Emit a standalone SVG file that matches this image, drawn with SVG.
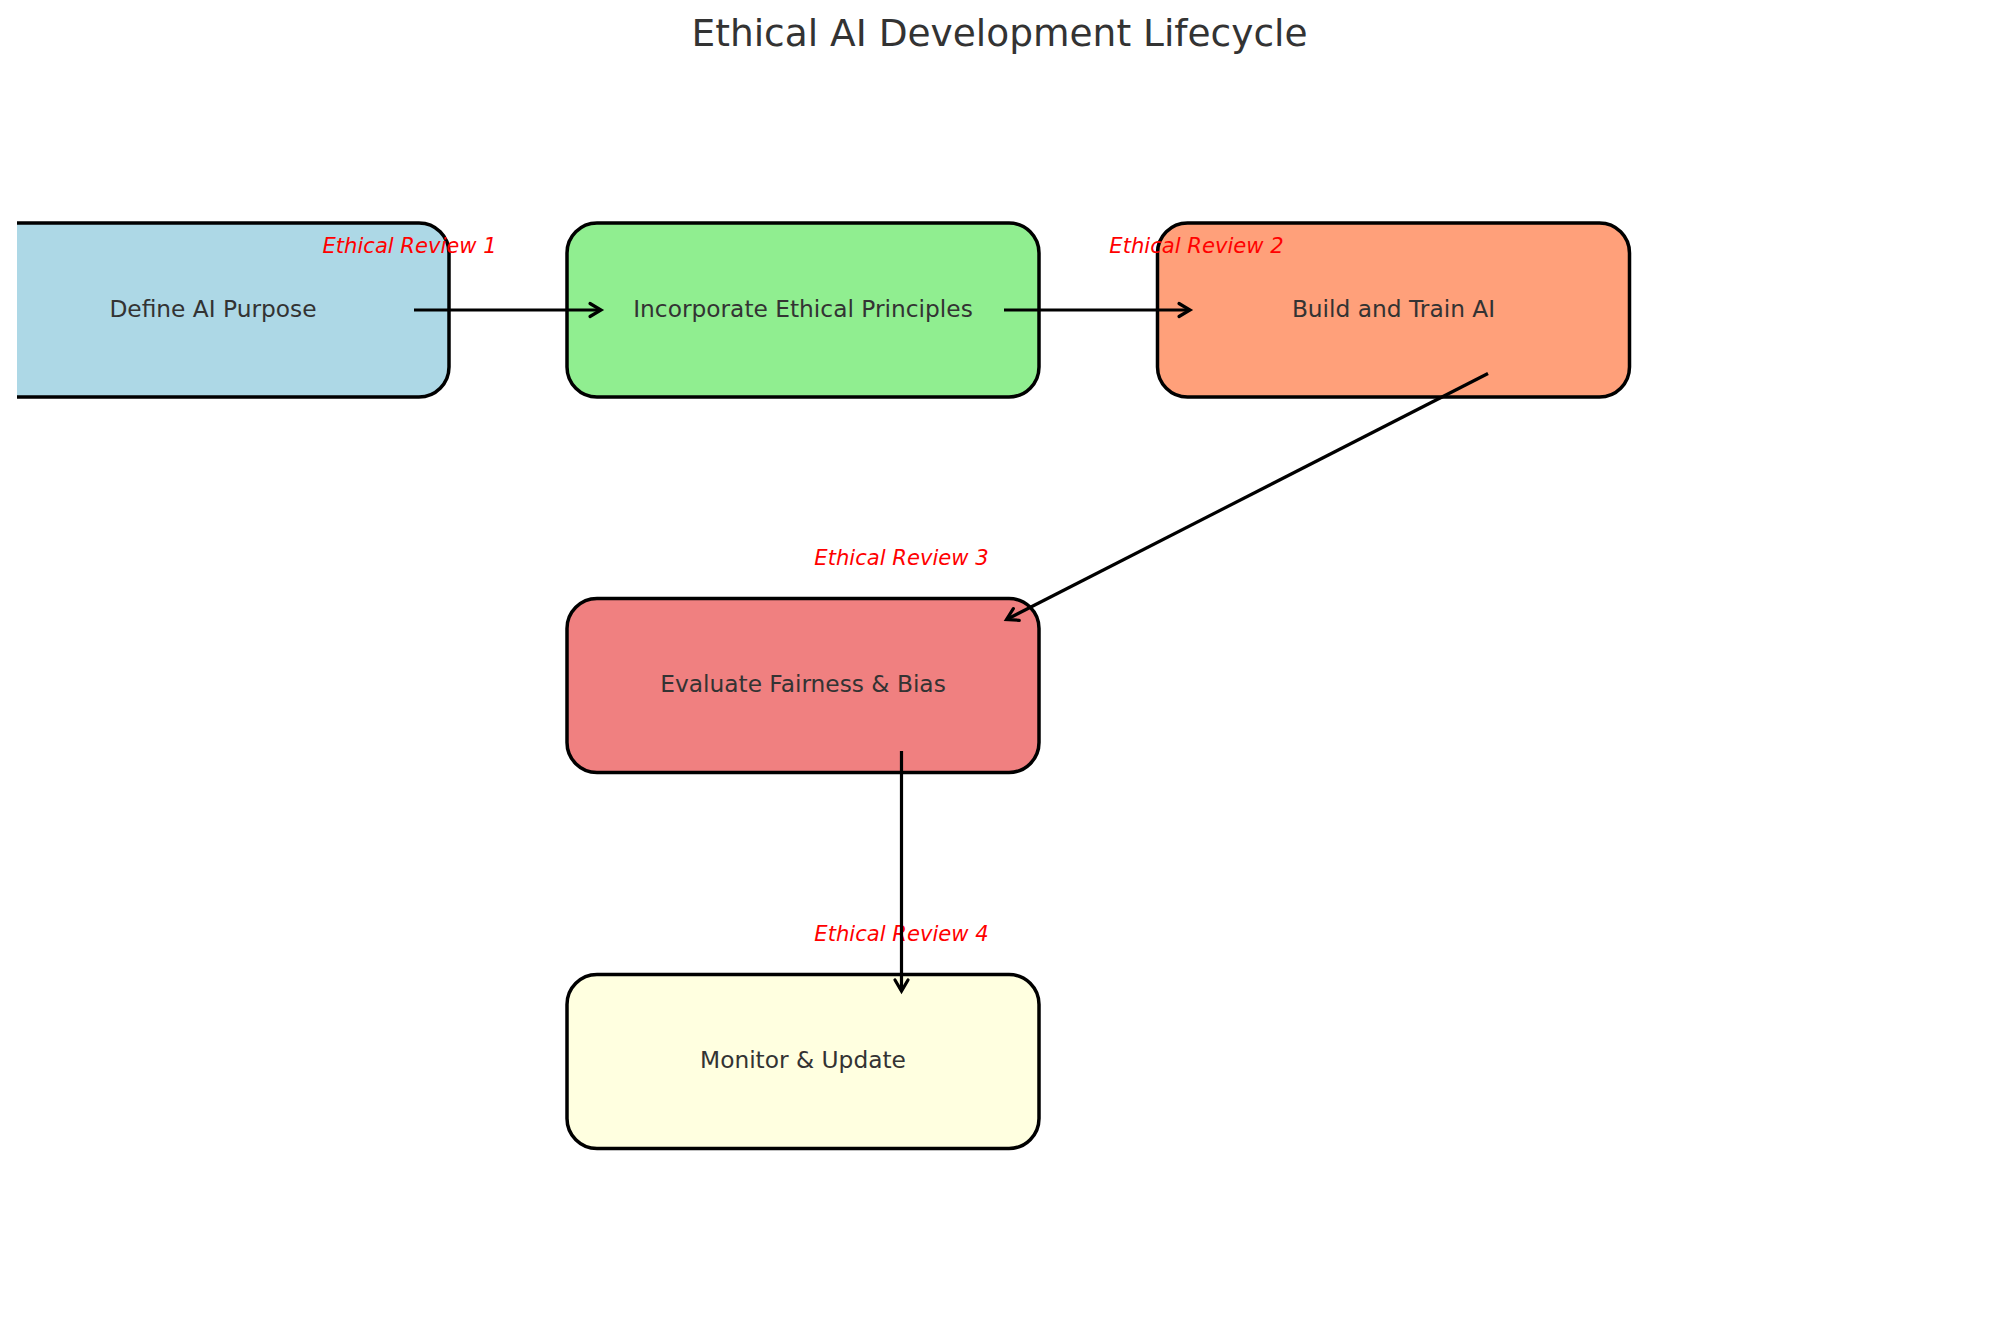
<svg xmlns="http://www.w3.org/2000/svg" width="1999" height="1328" viewBox="0 0 1999 1328">
<style>
.box{stroke:#000;stroke-width:3.5}
.lbl{font-family:"DejaVu Sans",sans-serif;font-size:23.3px;fill:#333333;text-anchor:middle}
.rev{font-family:"DejaVu Sans",sans-serif;font-size:21.1px;font-style:italic;fill:#ff0000;text-anchor:middle}
.title{font-family:"DejaVu Sans",sans-serif;font-size:37.5px;fill:#333333;text-anchor:middle}
.conn{stroke:#000;stroke-width:3.2;fill:none;marker-end:url(#arr)}
</style>
<defs>
<clipPath id="ax"><rect x="17" y="0" width="1982" height="1328"/></clipPath>
<marker id="arr" markerUnits="userSpaceOnUse" markerWidth="30" markerHeight="30" viewBox="-15 -15 30 30" refX="0" refY="0" orient="auto">
<path d="M-11,-6.5 L0,0 L-11,6.5" fill="none" stroke="#000" stroke-width="3.2" stroke-linecap="round" stroke-linejoin="miter"/>
</marker>
</defs>
<rect width="1999" height="1328" fill="#fff"/>
<text class="title" x="999.5" y="45.5">Ethical AI Development Lifecycle</text>
<g id="node-define" clip-path="url(#ax)">
<rect class="box" x="-23" y="223" width="472" height="174" rx="30" fill="#ADD8E6"/>
<text class="lbl" x="213" y="316.5">Define AI Purpose</text>
</g>
<g id="node-incorporate">
<rect class="box" x="567" y="223" width="472" height="174" rx="30" fill="#90EE90"/>
<text class="lbl" x="803" y="316.5">Incorporate Ethical Principles</text>
</g>
<g id="node-build">
<rect class="box" x="1157.5" y="223" width="472" height="174" rx="30" fill="#FFA07A"/>
<text class="lbl" x="1393.5" y="316.5">Build and Train AI</text>
</g>
<g id="node-evaluate">
<rect class="box" x="567" y="598.5" width="472" height="174" rx="30" fill="#F08080"/>
<text class="lbl" x="803" y="692">Evaluate Fairness &amp; Bias</text>
</g>
<g id="node-monitor">
<rect class="box" x="567" y="974.5" width="472" height="174" rx="30" fill="#FFFFE0"/>
<text class="lbl" x="803" y="1068">Monitor &amp; Update</text>
</g>
<g id="review-labels">
<text class="rev" x="409.6" y="252.7">Ethical Review 1</text>
<text class="rev" x="1196.5" y="252.7">Ethical Review 2</text>
<text class="rev" x="901.5" y="565">Ethical Review 3</text>
<text class="rev" x="901.5" y="941">Ethical Review 4</text>
</g>
<g id="connectors">
<line class="conn" x1="414" y1="310" x2="601" y2="310"/>
<line class="conn" x1="1004" y1="310" x2="1190" y2="310"/>
<line class="conn" x1="1488" y1="373.5" x2="1006.5" y2="619.5"/>
<line class="conn" x1="901.5" y1="751" x2="901.5" y2="991"/>
</g>
</svg>
